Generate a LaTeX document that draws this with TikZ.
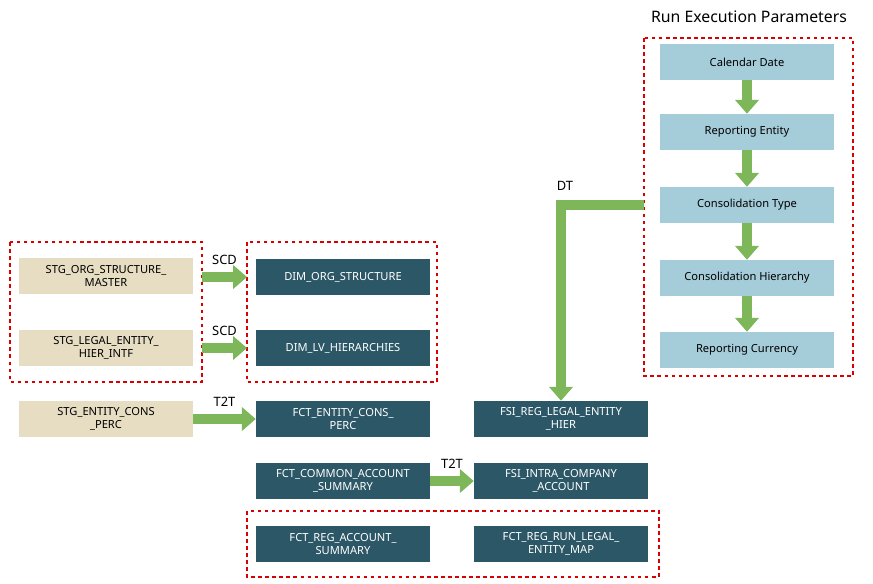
\documentclass[tikz,border=0pt]{standalone}
\usepackage{fontspec}
\setmainfont{Noto Sans}
\usetikzlibrary{arrows.meta}
\definecolor{lb}{HTML}{A5CCD9}
\definecolor{tan}{HTML}{E6DDC2}
\definecolor{dk}{HTML}{2C5767}
\definecolor{gr}{HTML}{7EB65A}
\begin{document}
\begin{tikzpicture}[x=0.03cm,y=-0.03cm,
 box/.style={minimum width=5.22cm,minimum height=1.08cm,inner sep=0pt,align=center,font=\fontsize{9.5}{11}\selectfont},
 pb/.style={box,fill=lb,text=black},
 tb/.style={box,fill=tan,text=black},
 db/.style={box,fill=dk,text=white},
 reg/.style={draw=red!85!black,dashed,line width=0.9pt},
 ga/.style={draw=gr,line width=0.3cm,-{Triangle[width=0.7cm,length=0.42cm]}},
 lab/.style={font=\fontsize{11}{13}\selectfont}]
\useasboundingbox (0,0) rectangle (873,583);
\node[font=\fontsize{13.5}{16}\selectfont] (title) at (749,17) {Run Execution Parameters};
\draw[reg] (644,38) rectangle (853,376);
\node[pb] (cd) at (747,62) {Calendar Date};
\node[pb] (re) at (747,132) {Reporting Entity};
\node[pb] (ct) at (747,205) {Consolidation Type};
\node[pb] (ch) at (747,278) {Consolidation Hierarchy};
\node[pb] (rc) at (747,350) {Reporting Currency};
\foreach \a/\b in {cd/re,re/ct,ct/ch,ch/rc}\draw[ga] (\a.south) -- (\b.north);
\draw[reg] (10,242) rectangle (202,382);
\draw[reg] (247,242) rectangle (437,382);
\draw[reg] (247,511) rectangle (659,577);
\node[tb] (s1) at (106,276) {STG\_ORG\_STRUCTURE\_\\MASTER};
\node[tb] (s2) at (106,348) {STG\_LEGAL\_ENTITY\_\\HIER\_INTF};
\node[tb] (s3) at (106,419) {STG\_ENTITY\_CONS\\\_PERC};
\node[db] (d1) at (343,277) {DIM\_ORG\_STRUCTURE};
\node[db] (d2) at (343,348) {DIM\_LV\_HIERARCHIES};
\node[db] (f1) at (343,419) {FCT\_ENTITY\_CONS\_\\PERC};
\node[db] (f2) at (561,419) {FSI\_REG\_LEGAL\_ENTITY\\\_HIER};
\node[db] (f3) at (343,481) {FCT\_COMMON\_ACCOUNT\\\_SUMMARY};
\node[db] (f4) at (561,481) {FSI\_INTRA\_COMPANY\\\_ACCOUNT};
\node[db] (f5) at (343,544) {FCT\_REG\_ACCOUNT\_\\SUMMARY};
\node[db] (f6) at (561,544) {FCT\_REG\_RUN\_LEGAL\_\\ENTITY\_MAP};
\coordinate (r1) at (202,277); \coordinate (r1e) at (247,277);
\coordinate (r2) at (202,348); \coordinate (r2e) at (247,348);
\draw[ga] (r1) -- (r1e) node[lab,midway,above=3pt,black] {SCD};
\draw[ga] (r2) -- (r2e) node[lab,midway,above=3pt,black] {SCD};
\draw[ga] (s3.east) -- (f1.west) node[lab,midway,above=3pt,black] {T2T};
\draw[ga] (f3.east) -- (f4.west) node[lab,midway,above=3pt,black] {T2T};
\coordinate (ctl) at (644,205);
\draw[ga] (ctl) -- (561,205) -- (f2.north);
\node[lab] (dt) at (565,186) {DT};
\end{tikzpicture}
\end{document}
